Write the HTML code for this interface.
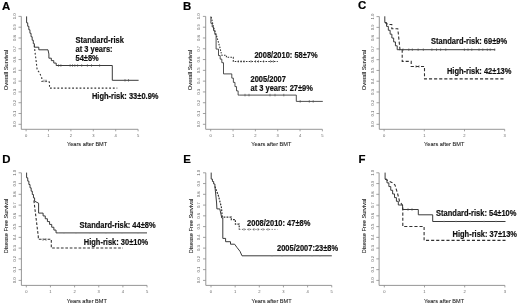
<!DOCTYPE html><html><head><meta charset="utf-8"><style>html,body{margin:0;padding:0;background:#fff;}body{width:520px;height:305px;overflow:hidden;position:relative;font-family:'Liberation Sans', sans-serif;}</style></head><body><svg width="520" height="305" viewBox="0 0 520 305" style="position:absolute;left:0;top:0;font-family:'Liberation Sans', sans-serif;filter:blur(0.35px)">
<text x="1.9" y="9.7" font-size="11.4" font-weight="bold" fill="#000" stroke="#000" stroke-width="0.2">A</text>
<text x="182.9" y="9.7" font-size="11.4" font-weight="bold" fill="#000" stroke="#000" stroke-width="0.2">B</text>
<text x="358.1" y="9.4" font-size="11.4" font-weight="bold" fill="#000" stroke="#000" stroke-width="0.2">C</text>
<text x="2.3" y="163.4" font-size="11.4" font-weight="bold" fill="#000" stroke="#000" stroke-width="0.2">D</text>
<text x="183.2" y="163.4" font-size="11.4" font-weight="bold" fill="#000" stroke="#000" stroke-width="0.2">E</text>
<text x="358.6" y="163.4" font-size="11.4" font-weight="bold" fill="#000" stroke="#000" stroke-width="0.2">F</text>
<path d="M21.30,16.40 V129.30 H138.10" fill="none" stroke="#8a8a8a" stroke-width="0.9"/>
<path d="M18.50,124.30 H21.30 M18.50,113.51 H21.30 M18.50,102.72 H21.30 M18.50,91.93 H21.30 M18.50,81.14 H21.30 M18.50,70.35 H21.30 M18.50,59.56 H21.30 M18.50,48.77 H21.30 M18.50,37.98 H21.30 M18.50,27.19 H21.30 M18.50,16.40 H21.30 M26.10,129.30 V131.30 M48.50,129.30 V131.30 M70.90,129.30 V131.30 M93.30,129.30 V131.30 M115.70,129.30 V131.30 M138.10,129.30 V131.30" fill="none" stroke="#8a8a8a" stroke-width="0.8"/>
<text x="16.00" y="124.30" transform="rotate(-90 16.00 124.30)" text-anchor="middle" font-size="4.2" fill="#606060">0.0</text>
<text x="16.00" y="113.51" transform="rotate(-90 16.00 113.51)" text-anchor="middle" font-size="4.2" fill="#606060">0.1</text>
<text x="16.00" y="102.72" transform="rotate(-90 16.00 102.72)" text-anchor="middle" font-size="4.2" fill="#606060">0.2</text>
<text x="16.00" y="91.93" transform="rotate(-90 16.00 91.93)" text-anchor="middle" font-size="4.2" fill="#606060">0.3</text>
<text x="16.00" y="81.14" transform="rotate(-90 16.00 81.14)" text-anchor="middle" font-size="4.2" fill="#606060">0.4</text>
<text x="16.00" y="70.35" transform="rotate(-90 16.00 70.35)" text-anchor="middle" font-size="4.2" fill="#606060">0.5</text>
<text x="16.00" y="59.56" transform="rotate(-90 16.00 59.56)" text-anchor="middle" font-size="4.2" fill="#606060">0.6</text>
<text x="16.00" y="48.77" transform="rotate(-90 16.00 48.77)" text-anchor="middle" font-size="4.2" fill="#606060">0.7</text>
<text x="16.00" y="37.98" transform="rotate(-90 16.00 37.98)" text-anchor="middle" font-size="4.2" fill="#606060">0.8</text>
<text x="16.00" y="27.19" transform="rotate(-90 16.00 27.19)" text-anchor="middle" font-size="4.2" fill="#606060">0.9</text>
<text x="16.00" y="16.40" transform="rotate(-90 16.00 16.40)" text-anchor="middle" font-size="4.2" fill="#606060">1.0</text>
<text x="26.10" y="137.20" text-anchor="middle" font-size="4.1" fill="#666">0</text>
<text x="48.50" y="137.20" text-anchor="middle" font-size="4.1" fill="#666">1</text>
<text x="70.90" y="137.20" text-anchor="middle" font-size="4.1" fill="#666">2</text>
<text x="93.30" y="137.20" text-anchor="middle" font-size="4.1" fill="#666">3</text>
<text x="115.70" y="137.20" text-anchor="middle" font-size="4.1" fill="#666">4</text>
<text x="138.10" y="137.20" text-anchor="middle" font-size="4.1" fill="#666">5</text>
<text x="8.00" y="70.00" transform="rotate(-90 8.00 70.00)" text-anchor="middle" font-size="5.75" fill="#1e1e1e" stroke="#1e1e1e" stroke-width="0.08">Overall Survival</text>
<text transform="translate(87.10 146.40) scale(1 1.1)" text-anchor="middle" font-size="5.6" fill="#1a1a1a" stroke="#1a1a1a" stroke-width="0.08">Years after BMT</text>
<path d="M205.70,16.40 V129.30 H322.40" fill="none" stroke="#8a8a8a" stroke-width="0.9"/>
<path d="M202.90,124.30 H205.70 M202.90,113.51 H205.70 M202.90,102.72 H205.70 M202.90,91.93 H205.70 M202.90,81.14 H205.70 M202.90,70.35 H205.70 M202.90,59.56 H205.70 M202.90,48.77 H205.70 M202.90,37.98 H205.70 M202.90,27.19 H205.70 M202.90,16.40 H205.70 M210.70,129.30 V131.30 M233.04,129.30 V131.30 M255.38,129.30 V131.30 M277.72,129.30 V131.30 M300.06,129.30 V131.30 M322.40,129.30 V131.30" fill="none" stroke="#8a8a8a" stroke-width="0.8"/>
<text x="200.40" y="124.30" transform="rotate(-90 200.40 124.30)" text-anchor="middle" font-size="4.2" fill="#606060">0.0</text>
<text x="200.40" y="113.51" transform="rotate(-90 200.40 113.51)" text-anchor="middle" font-size="4.2" fill="#606060">0.1</text>
<text x="200.40" y="102.72" transform="rotate(-90 200.40 102.72)" text-anchor="middle" font-size="4.2" fill="#606060">0.2</text>
<text x="200.40" y="91.93" transform="rotate(-90 200.40 91.93)" text-anchor="middle" font-size="4.2" fill="#606060">0.3</text>
<text x="200.40" y="81.14" transform="rotate(-90 200.40 81.14)" text-anchor="middle" font-size="4.2" fill="#606060">0.4</text>
<text x="200.40" y="70.35" transform="rotate(-90 200.40 70.35)" text-anchor="middle" font-size="4.2" fill="#606060">0.5</text>
<text x="200.40" y="59.56" transform="rotate(-90 200.40 59.56)" text-anchor="middle" font-size="4.2" fill="#606060">0.6</text>
<text x="200.40" y="48.77" transform="rotate(-90 200.40 48.77)" text-anchor="middle" font-size="4.2" fill="#606060">0.7</text>
<text x="200.40" y="37.98" transform="rotate(-90 200.40 37.98)" text-anchor="middle" font-size="4.2" fill="#606060">0.8</text>
<text x="200.40" y="27.19" transform="rotate(-90 200.40 27.19)" text-anchor="middle" font-size="4.2" fill="#606060">0.9</text>
<text x="200.40" y="16.40" transform="rotate(-90 200.40 16.40)" text-anchor="middle" font-size="4.2" fill="#606060">1.0</text>
<text x="210.70" y="137.20" text-anchor="middle" font-size="4.1" fill="#666">0</text>
<text x="233.04" y="137.20" text-anchor="middle" font-size="4.1" fill="#666">1</text>
<text x="255.38" y="137.20" text-anchor="middle" font-size="4.1" fill="#666">2</text>
<text x="277.72" y="137.20" text-anchor="middle" font-size="4.1" fill="#666">3</text>
<text x="300.06" y="137.20" text-anchor="middle" font-size="4.1" fill="#666">4</text>
<text x="322.40" y="137.20" text-anchor="middle" font-size="4.1" fill="#666">5</text>
<text x="192.40" y="70.00" transform="rotate(-90 192.40 70.00)" text-anchor="middle" font-size="5.75" fill="#1e1e1e" stroke="#1e1e1e" stroke-width="0.08">Overall Survival</text>
<text transform="translate(271.30 146.40) scale(1 1.1)" text-anchor="middle" font-size="5.6" fill="#1a1a1a" stroke="#1a1a1a" stroke-width="0.08">Years after BMT</text>
<path d="M379.30,16.60 V129.30 H504.70" fill="none" stroke="#8a8a8a" stroke-width="0.9"/>
<path d="M376.50,124.30 H379.30 M376.50,113.53 H379.30 M376.50,102.76 H379.30 M376.50,91.99 H379.30 M376.50,81.22 H379.30 M376.50,70.45 H379.30 M376.50,59.68 H379.30 M376.50,48.91 H379.30 M376.50,38.14 H379.30 M376.50,27.37 H379.30 M376.50,16.60 H379.30 M384.10,129.30 V131.30 M424.30,129.30 V131.30 M464.50,129.30 V131.30 M504.70,129.30 V131.30" fill="none" stroke="#8a8a8a" stroke-width="0.8"/>
<text x="374.00" y="124.30" transform="rotate(-90 374.00 124.30)" text-anchor="middle" font-size="4.2" fill="#606060">0.0</text>
<text x="374.00" y="113.53" transform="rotate(-90 374.00 113.53)" text-anchor="middle" font-size="4.2" fill="#606060">0.1</text>
<text x="374.00" y="102.76" transform="rotate(-90 374.00 102.76)" text-anchor="middle" font-size="4.2" fill="#606060">0.2</text>
<text x="374.00" y="91.99" transform="rotate(-90 374.00 91.99)" text-anchor="middle" font-size="4.2" fill="#606060">0.3</text>
<text x="374.00" y="81.22" transform="rotate(-90 374.00 81.22)" text-anchor="middle" font-size="4.2" fill="#606060">0.4</text>
<text x="374.00" y="70.45" transform="rotate(-90 374.00 70.45)" text-anchor="middle" font-size="4.2" fill="#606060">0.5</text>
<text x="374.00" y="59.68" transform="rotate(-90 374.00 59.68)" text-anchor="middle" font-size="4.2" fill="#606060">0.6</text>
<text x="374.00" y="48.91" transform="rotate(-90 374.00 48.91)" text-anchor="middle" font-size="4.2" fill="#606060">0.7</text>
<text x="374.00" y="38.14" transform="rotate(-90 374.00 38.14)" text-anchor="middle" font-size="4.2" fill="#606060">0.8</text>
<text x="374.00" y="27.37" transform="rotate(-90 374.00 27.37)" text-anchor="middle" font-size="4.2" fill="#606060">0.9</text>
<text x="374.00" y="16.60" transform="rotate(-90 374.00 16.60)" text-anchor="middle" font-size="4.2" fill="#606060">1.0</text>
<text x="384.10" y="137.20" text-anchor="middle" font-size="4.1" fill="#666">0</text>
<text x="424.30" y="137.20" text-anchor="middle" font-size="4.1" fill="#666">1</text>
<text x="464.50" y="137.20" text-anchor="middle" font-size="4.1" fill="#666">2</text>
<text x="504.70" y="137.20" text-anchor="middle" font-size="4.1" fill="#666">3</text>
<text x="366.00" y="70.00" transform="rotate(-90 366.00 70.00)" text-anchor="middle" font-size="5.75" fill="#1e1e1e" stroke="#1e1e1e" stroke-width="0.08">Overall Survival</text>
<text transform="translate(444.20 146.40) scale(1 1.1)" text-anchor="middle" font-size="5.6" fill="#1a1a1a" stroke="#1a1a1a" stroke-width="0.08">Years after BMT</text>
<path d="M21.40,172.80 V285.40 H147.05" fill="none" stroke="#8a8a8a" stroke-width="0.9"/>
<path d="M18.60,280.40 H21.40 M18.60,269.64 H21.40 M18.60,258.88 H21.40 M18.60,248.12 H21.40 M18.60,237.36 H21.40 M18.60,226.60 H21.40 M18.60,215.84 H21.40 M18.60,205.08 H21.40 M18.60,194.32 H21.40 M18.60,183.56 H21.40 M18.60,172.80 H21.40 M26.30,285.40 V287.40 M50.45,285.40 V287.40 M74.60,285.40 V287.40 M98.75,285.40 V287.40 M122.90,285.40 V287.40 M147.05,285.40 V287.40" fill="none" stroke="#8a8a8a" stroke-width="0.8"/>
<text x="16.10" y="280.40" transform="rotate(-90 16.10 280.40)" text-anchor="middle" font-size="4.2" fill="#606060">0.0</text>
<text x="16.10" y="269.64" transform="rotate(-90 16.10 269.64)" text-anchor="middle" font-size="4.2" fill="#606060">0.1</text>
<text x="16.10" y="258.88" transform="rotate(-90 16.10 258.88)" text-anchor="middle" font-size="4.2" fill="#606060">0.2</text>
<text x="16.10" y="248.12" transform="rotate(-90 16.10 248.12)" text-anchor="middle" font-size="4.2" fill="#606060">0.3</text>
<text x="16.10" y="237.36" transform="rotate(-90 16.10 237.36)" text-anchor="middle" font-size="4.2" fill="#606060">0.4</text>
<text x="16.10" y="226.60" transform="rotate(-90 16.10 226.60)" text-anchor="middle" font-size="4.2" fill="#606060">0.5</text>
<text x="16.10" y="215.84" transform="rotate(-90 16.10 215.84)" text-anchor="middle" font-size="4.2" fill="#606060">0.6</text>
<text x="16.10" y="205.08" transform="rotate(-90 16.10 205.08)" text-anchor="middle" font-size="4.2" fill="#606060">0.7</text>
<text x="16.10" y="194.32" transform="rotate(-90 16.10 194.32)" text-anchor="middle" font-size="4.2" fill="#606060">0.8</text>
<text x="16.10" y="183.56" transform="rotate(-90 16.10 183.56)" text-anchor="middle" font-size="4.2" fill="#606060">0.9</text>
<text x="16.10" y="172.80" transform="rotate(-90 16.10 172.80)" text-anchor="middle" font-size="4.2" fill="#606060">1.0</text>
<text x="26.30" y="293.30" text-anchor="middle" font-size="4.1" fill="#666">0</text>
<text x="50.45" y="293.30" text-anchor="middle" font-size="4.1" fill="#666">1</text>
<text x="74.60" y="293.30" text-anchor="middle" font-size="4.1" fill="#666">2</text>
<text x="98.75" y="293.30" text-anchor="middle" font-size="4.1" fill="#666">3</text>
<text x="122.90" y="293.30" text-anchor="middle" font-size="4.1" fill="#666">4</text>
<text x="147.05" y="293.30" text-anchor="middle" font-size="4.1" fill="#666">5</text>
<text x="8.10" y="226.00" transform="rotate(-90 8.10 226.00)" text-anchor="middle" font-size="5.58" fill="#1e1e1e" stroke="#1e1e1e" stroke-width="0.08">Disease Free Survival</text>
<text transform="translate(86.80 302.60) scale(1 1.1)" text-anchor="middle" font-size="5.6" fill="#1a1a1a" stroke="#1a1a1a" stroke-width="0.08">Years after BMT</text>
<path d="M205.80,172.80 V285.40 H331.75" fill="none" stroke="#8a8a8a" stroke-width="0.9"/>
<path d="M203.00,280.40 H205.80 M203.00,269.64 H205.80 M203.00,258.88 H205.80 M203.00,248.12 H205.80 M203.00,237.36 H205.80 M203.00,226.60 H205.80 M203.00,215.84 H205.80 M203.00,205.08 H205.80 M203.00,194.32 H205.80 M203.00,183.56 H205.80 M203.00,172.80 H205.80 M211.00,285.40 V287.40 M235.15,285.40 V287.40 M259.30,285.40 V287.40 M283.45,285.40 V287.40 M307.60,285.40 V287.40 M331.75,285.40 V287.40" fill="none" stroke="#8a8a8a" stroke-width="0.8"/>
<text x="200.50" y="280.40" transform="rotate(-90 200.50 280.40)" text-anchor="middle" font-size="4.2" fill="#606060">0.0</text>
<text x="200.50" y="269.64" transform="rotate(-90 200.50 269.64)" text-anchor="middle" font-size="4.2" fill="#606060">0.1</text>
<text x="200.50" y="258.88" transform="rotate(-90 200.50 258.88)" text-anchor="middle" font-size="4.2" fill="#606060">0.2</text>
<text x="200.50" y="248.12" transform="rotate(-90 200.50 248.12)" text-anchor="middle" font-size="4.2" fill="#606060">0.3</text>
<text x="200.50" y="237.36" transform="rotate(-90 200.50 237.36)" text-anchor="middle" font-size="4.2" fill="#606060">0.4</text>
<text x="200.50" y="226.60" transform="rotate(-90 200.50 226.60)" text-anchor="middle" font-size="4.2" fill="#606060">0.5</text>
<text x="200.50" y="215.84" transform="rotate(-90 200.50 215.84)" text-anchor="middle" font-size="4.2" fill="#606060">0.6</text>
<text x="200.50" y="205.08" transform="rotate(-90 200.50 205.08)" text-anchor="middle" font-size="4.2" fill="#606060">0.7</text>
<text x="200.50" y="194.32" transform="rotate(-90 200.50 194.32)" text-anchor="middle" font-size="4.2" fill="#606060">0.8</text>
<text x="200.50" y="183.56" transform="rotate(-90 200.50 183.56)" text-anchor="middle" font-size="4.2" fill="#606060">0.9</text>
<text x="200.50" y="172.80" transform="rotate(-90 200.50 172.80)" text-anchor="middle" font-size="4.2" fill="#606060">1.0</text>
<text x="211.00" y="293.30" text-anchor="middle" font-size="4.1" fill="#666">0</text>
<text x="235.15" y="293.30" text-anchor="middle" font-size="4.1" fill="#666">1</text>
<text x="259.30" y="293.30" text-anchor="middle" font-size="4.1" fill="#666">2</text>
<text x="283.45" y="293.30" text-anchor="middle" font-size="4.1" fill="#666">3</text>
<text x="307.60" y="293.30" text-anchor="middle" font-size="4.1" fill="#666">4</text>
<text x="331.75" y="293.30" text-anchor="middle" font-size="4.1" fill="#666">5</text>
<text x="192.50" y="226.00" transform="rotate(-90 192.50 226.00)" text-anchor="middle" font-size="5.58" fill="#1e1e1e" stroke="#1e1e1e" stroke-width="0.08">Disease Free Survival</text>
<text transform="translate(271.50 302.60) scale(1 1.1)" text-anchor="middle" font-size="5.6" fill="#1a1a1a" stroke="#1a1a1a" stroke-width="0.08">Years after BMT</text>
<path d="M379.10,172.80 V285.40 H504.90" fill="none" stroke="#8a8a8a" stroke-width="0.9"/>
<path d="M376.30,280.40 H379.10 M376.30,269.64 H379.10 M376.30,258.88 H379.10 M376.30,248.12 H379.10 M376.30,237.36 H379.10 M376.30,226.60 H379.10 M376.30,215.84 H379.10 M376.30,205.08 H379.10 M376.30,194.32 H379.10 M376.30,183.56 H379.10 M376.30,172.80 H379.10 M384.30,285.40 V287.40 M424.50,285.40 V287.40 M464.70,285.40 V287.40 M504.90,285.40 V287.40" fill="none" stroke="#8a8a8a" stroke-width="0.8"/>
<text x="373.80" y="280.40" transform="rotate(-90 373.80 280.40)" text-anchor="middle" font-size="4.2" fill="#606060">0.0</text>
<text x="373.80" y="269.64" transform="rotate(-90 373.80 269.64)" text-anchor="middle" font-size="4.2" fill="#606060">0.1</text>
<text x="373.80" y="258.88" transform="rotate(-90 373.80 258.88)" text-anchor="middle" font-size="4.2" fill="#606060">0.2</text>
<text x="373.80" y="248.12" transform="rotate(-90 373.80 248.12)" text-anchor="middle" font-size="4.2" fill="#606060">0.3</text>
<text x="373.80" y="237.36" transform="rotate(-90 373.80 237.36)" text-anchor="middle" font-size="4.2" fill="#606060">0.4</text>
<text x="373.80" y="226.60" transform="rotate(-90 373.80 226.60)" text-anchor="middle" font-size="4.2" fill="#606060">0.5</text>
<text x="373.80" y="215.84" transform="rotate(-90 373.80 215.84)" text-anchor="middle" font-size="4.2" fill="#606060">0.6</text>
<text x="373.80" y="205.08" transform="rotate(-90 373.80 205.08)" text-anchor="middle" font-size="4.2" fill="#606060">0.7</text>
<text x="373.80" y="194.32" transform="rotate(-90 373.80 194.32)" text-anchor="middle" font-size="4.2" fill="#606060">0.8</text>
<text x="373.80" y="183.56" transform="rotate(-90 373.80 183.56)" text-anchor="middle" font-size="4.2" fill="#606060">0.9</text>
<text x="373.80" y="172.80" transform="rotate(-90 373.80 172.80)" text-anchor="middle" font-size="4.2" fill="#606060">1.0</text>
<text x="384.30" y="293.30" text-anchor="middle" font-size="4.1" fill="#666">0</text>
<text x="424.50" y="293.30" text-anchor="middle" font-size="4.1" fill="#666">1</text>
<text x="464.70" y="293.30" text-anchor="middle" font-size="4.1" fill="#666">2</text>
<text x="504.90" y="293.30" text-anchor="middle" font-size="4.1" fill="#666">3</text>
<text x="365.80" y="226.00" transform="rotate(-90 365.80 226.00)" text-anchor="middle" font-size="5.58" fill="#1e1e1e" stroke="#1e1e1e" stroke-width="0.08">Disease Free Survival</text>
<text transform="translate(444.00 302.60) scale(1 1.1)" text-anchor="middle" font-size="5.6" fill="#1a1a1a" stroke="#1a1a1a" stroke-width="0.08">Years after BMT</text>
<path d="M26.6,16.4 V22.8 H27.71 V26.29 H28.83 V29.77 H29.94 V33.26 H31.06 V36.74 H32.17 V40.23 H33.29 V43.71 H34.40 V47.20 H38.8 V49.8 H48 L48.9,54 V58.2 H51.33 V60.63 H53.77 V63.07 H56.20 V65.50 H112.3 V80.3 H138.6" fill="none" stroke="#303030" stroke-width="0.95"/>
<path d="M34.2,45.5 L35,52 L36,60 L37.2,70 L39.5,72.6 L41.8,78 V81.2 H48.9 L49.5,83 V88.1 H117.3" fill="none" stroke="#333" stroke-width="1.0924999999999998" stroke-dasharray="1.8 1.9"/>
<path d="M58.6,64.2 V66.8 M60.9,64.2 V66.8 M70.1,64.2 V66.8 M72.5,64.2 V66.8 M74.8,64.2 V66.8 M77.6,64.2 V66.8 M81.7,64.2 V66.8 M87.4,64.2 V66.8 M91.5,64.2 V66.8 M99.6,64.2 V66.8" fill="none" stroke="#444" stroke-width="0.6"/>
<path d="M125.0,79.0 V81.6 M128.5,79.0 V81.6" fill="none" stroke="#444" stroke-width="0.6"/>
<path d="M44.0,79.6 V82.2 M46.0,79.6 V82.2" fill="none" stroke="#444" stroke-width="0.6"/>
<text transform="translate(75.5 43.3) scale(1 1.1)" font-size="7.5" font-weight="bold" fill="#111" stroke="#111" stroke-width="0.18">Standard-risk</text>
<text transform="translate(75.5 52.4) scale(1 1.1)" font-size="7.5" font-weight="bold" fill="#111" stroke="#111" stroke-width="0.18">at 3 years:</text>
<text transform="translate(75.5 60.8) scale(1 1.1)" font-size="7.5" font-weight="bold" fill="#111" stroke="#111" stroke-width="0.18">54±8%</text>
<text transform="translate(91.9 98.8) scale(1 1.1)" font-size="7.5" font-weight="bold" fill="#111" stroke="#111" stroke-width="0.18">High-risk: 33±0.9%</text>
<path d="M210.9,16.4 V23.3 H212.20 V26.98 H213.50 V30.65 H214.80 V34.33 H216.10 V38.00 V49.1 H218.5 V52 V55.57 H220.17 V59.13 H221.83 V62.70 H223.50 V73.9 H231.8 V78.14 H233.38 V82.38 H234.96 V86.62 H236.54 V90.86 H238.12 V95.10 H239.70 H296.3 V101.4 H322.8" fill="none" stroke="#303030" stroke-width="0.855"/>
<path d="M211.2,17 L213.5,27 L216.6,36 L219.9,47.5 L221.8,55.3 H226.4 V57.3 H233.3 V61.4 H277.8" fill="none" stroke="#303030" stroke-width="1.045" stroke-dasharray="1.5 1.3"/>
<path d="M245.0,93.8 V96.4 M249.0,93.8 V96.4 M270.0,93.8 V96.4 M275.0,93.8 V96.4 M283.8,93.8 V96.4" fill="none" stroke="#444" stroke-width="0.6"/>
<path d="M300.2,100.1 V102.7 M309.3,100.1 V102.7 M313.2,100.1 V102.7" fill="none" stroke="#444" stroke-width="0.6"/>
<path d="M238.3,60.1 V62.7 M241.1,60.1 V62.7 M244.0,60.1 V62.7 M251.0,60.1 V62.7 M255.6,60.1 V62.7 M258.4,60.1 V62.7 M263.6,60.1 V62.7 M270.6,60.1 V62.7 M273.4,60.1 V62.7" fill="none" stroke="#444" stroke-width="0.6"/>
<text transform="translate(254.4 57.7) scale(1 1.1)" font-size="7.5" font-weight="bold" fill="#111" stroke="#111" stroke-width="0.18">2008/2010: 58±7%</text>
<text transform="translate(250.5 82.3) scale(1 1.1)" font-size="7.5" font-weight="bold" fill="#111" stroke="#111" stroke-width="0.18">2005/2007</text>
<text transform="translate(250.5 90.7) scale(1 1.1)" font-size="7.5" font-weight="bold" fill="#111" stroke="#111" stroke-width="0.18">at 3 years: 27±9%</text>
<path d="M384.8,16.3 V22.5 H386.57 V26.39 H388.34 V30.27 H390.11 V34.16 H391.89 V38.04 H393.66 V41.93 H395.43 V45.81 H397.20 V49.70 H495.2" fill="none" stroke="#303030" stroke-width="0.95"/>
<path d="M385,22.5 L388,24.5 H391.8 V28.7 H397.8 L400,49.7 H402.2 V61.4 H411.2 V66.5 H424.5 V78.9 H504.6" fill="none" stroke="#303030" stroke-width="1.0924999999999998" stroke-dasharray="3.1 2"/>
<path d="M403.0,48.4 V51.0 M408.8,48.4 V51.0 M412.3,48.4 V51.0 M418.1,48.4 V51.0 M423.3,48.4 V51.0 M431.9,48.4 V51.0 M436.5,48.4 V51.0 M440.6,48.4 V51.0 M445.8,48.4 V51.0 M464.4,48.4 V51.0 M468.0,48.4 V51.0 M471.8,48.4 V51.0 M479.0,48.4 V51.0 M482.8,48.4 V51.0 M487.3,48.4 V51.0 M490.2,48.4 V51.0 M494.7,48.4 V51.0" fill="none" stroke="#444" stroke-width="0.6"/>
<path d="M416.0,65.2 V67.8 M419.0,65.2 V67.8" fill="none" stroke="#444" stroke-width="0.6"/>
<text transform="translate(431.0 44.0) scale(1 1.1)" font-size="7.5" font-weight="bold" fill="#111" stroke="#111" stroke-width="0.18">Standard-risk: 69±9%</text>
<text transform="translate(446.9 73.8) scale(1 1.1)" font-size="7.5" font-weight="bold" fill="#111" stroke="#111" stroke-width="0.18">High-risk: 42±13%</text>
<path d="M26.6,172.6 V177.8 H27.74 V181.14 H28.89 V184.49 H30.03 V187.83 H31.17 V191.17 H32.31 V194.51 H33.46 V197.86 H34.60 V201.20 L38.6,203.2 V213.1 H43.1 V215.93 H45.26 V218.76 H47.41 V221.59 H49.57 V224.41 H51.73 V227.24 H53.89 V230.07 H56.04 V232.90 H58.20 H147" fill="none" stroke="#303030" stroke-width="0.95"/>
<path d="M33.9,200.5 L38.3,236.5 V239.3 H51.3 V248 H123" fill="none" stroke="#303030" stroke-width="1.0924999999999998" stroke-dasharray="2.7 1.7"/>
<path d="M64.0,232.1 V233.7 M76.0,232.1 V233.7 M90.0,232.1 V233.7 M106.0,232.1 V233.7 M122.0,232.1 V233.7 M138.0,232.1 V233.7" fill="none" stroke="#888" stroke-width="0.6"/>
<path d="M43.0,238.3 V240.9 M46.0,238.3 V240.9" fill="none" stroke="#444" stroke-width="0.6"/>
<text transform="translate(79.5 228.0) scale(1 1.1)" font-size="7.5" font-weight="bold" fill="#111" stroke="#111" stroke-width="0.18">Standard-risk: 44±8%</text>
<text transform="translate(83.8 244.7) scale(1 1.1)" font-size="7.5" font-weight="bold" fill="#111" stroke="#111" stroke-width="0.18">High-risk: 30±10%</text>
<path d="M211.2,172.6 V179.1 H212.43 V181.53 H213.67 V183.97 H214.90 V186.40 L215.8,195 L216.6,203 L216.9,208.9 H219.8 L221.8,218 H222.8 V238.4 H225.6 V241.7 H230.5 V244.2 H234.6 L237,247.5 L240,251.3 L242,255.8 H331.8" fill="none" stroke="#303030" stroke-width="0.95"/>
<path d="M214.9,186.4 L218.5,196 L221.4,207.3 L222.3,217.1 H231.3 V219.6 H235.4 V224.2 H239.2 V229.4" fill="none" stroke="#303030" stroke-width="1.1875" stroke-dasharray="1.8 1.2"/>
<path d="M239.2,229.4 H277.4" fill="none" stroke="#555" stroke-width="0.855" stroke-dasharray="1.2 1.5"/>
<path d="M272.0,255.0 V256.6 M282.0,255.0 V256.6 M300.0,255.0 V256.6 M312.0,255.0 V256.6 M320.0,255.0 V256.6" fill="none" stroke="#888" stroke-width="0.6"/>
<path d="M244.0,228.1 V230.7 M249.0,228.1 V230.7 M254.0,228.1 V230.7 M258.0,228.1 V230.7 M263.0,228.1 V230.7 M268.0,228.1 V230.7" fill="none" stroke="#444" stroke-width="0.6"/>
<text transform="translate(247.1 225.8) scale(1 1.1)" font-size="7.5" font-weight="bold" fill="#111" stroke="#111" stroke-width="0.18">2008/2010: 47±8%</text>
<text transform="translate(277.0 251.4) scale(1 1.1)" font-size="7.5" font-weight="bold" fill="#111" stroke="#111" stroke-width="0.18">2005/2007:23±8%</text>
<path d="M385.1,172.6 V179.2 H386.99 V182.89 H388.87 V186.57 H390.76 V190.26 H392.64 V193.94 H394.53 V197.63 H396.41 V201.31 H398.30 V205.00 H402.6 V209.5 H418.3 V214.8 H432.7 V221.5 H505.5" fill="none" stroke="#303030" stroke-width="0.95"/>
<path d="M385.2,179.1 L388.5,181 L391.8,182.4 L395,185 L397.7,194 L399.5,201 L402.8,205.7 V226.5 H424.1 V240.4 H505.5" fill="none" stroke="#303030" stroke-width="1.0924999999999998" stroke-dasharray="3.1 2"/>
<path d="M444.0,220.7 V222.3 M456.0,220.7 V222.3 M470.0,220.7 V222.3 M484.0,220.7 V222.3 M496.0,220.7 V222.3" fill="none" stroke="#888" stroke-width="0.6"/>
<path d="M408.0,208.2 V210.8 M412.0,208.2 V210.8" fill="none" stroke="#444" stroke-width="0.6"/>
<text transform="translate(436.1 216.2) scale(1 1.1)" font-size="7.5" font-weight="bold" fill="#111" stroke="#111" stroke-width="0.18">Standard-risk: 54±10%</text>
<text transform="translate(452.5 237.0) scale(1 1.1)" font-size="7.5" font-weight="bold" fill="#111" stroke="#111" stroke-width="0.18">High-risk: 37±13%</text>
</svg></body></html>
